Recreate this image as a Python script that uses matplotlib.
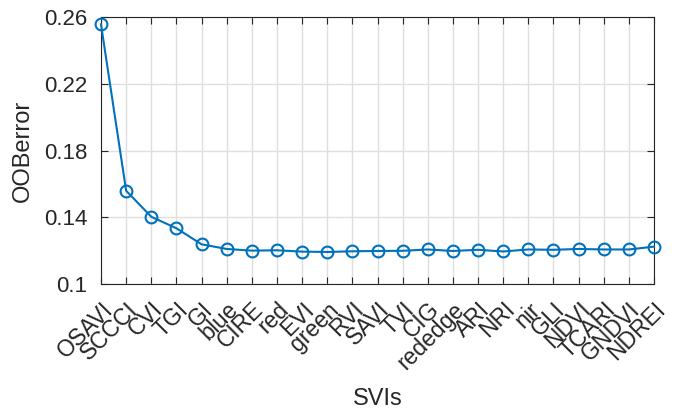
import matplotlib.pyplot as plt

plt.rcParams['font.family'] = ['Liberation Sans', 'DejaVu Sans']

# OOB error per spectral vegetation index
svis = ["OSAVI", "SCCCI", "CVI", "TGI", "GI", "blue", "CIRE", "red", "EVI", "green",
        "RVI", "SAVI", "TVI", "CIG", "rededge", "ARI", "NRI", "nir", "GLI", "NDVI",
        "TCARI", "GNDVI", "NDREI"]
oob_error = [0.2556, 0.1559, 0.1403, 0.1334, 0.1238, 0.1210, 0.1200, 0.1202, 0.1194, 0.1192,
             0.1196, 0.1198, 0.1199, 0.1207, 0.1198, 0.1205, 0.1195, 0.1207, 0.1205, 0.1210,
             0.1207, 0.1207, 0.1224]
y_ticks = [0.1, 0.14, 0.18, 0.22, 0.26]

fig = plt.figure(figsize=(6.76, 4.09), dpi=100)
ax = fig.add_axes([0.1494, 0.3056, 0.8181, 0.6528])

x = list(range(1, len(svis) + 1))
ax.plot(x, oob_error, color='#0072BD', linewidth=1.5, marker='o', markersize=8.5,
        markerfacecolor='none', markeredgewidth=1.5, zorder=3, clip_on=False)

ax.set_xlim(1, len(svis))
ax.set_ylim(0.1, 0.26)
ax.set_xticks(x)
ax.set_xticklabels(svis, rotation=45, ha='right', rotation_mode='anchor')
ax.set_yticks(y_ticks)
ax.set_yticklabels(["0.1", "0.14", "0.18", "0.22", "0.26"])

ax.grid(True, color='#dfdfdf', linewidth=1)
ax.set_axisbelow(True)
ax.tick_params(direction='in', length=5, width=0.8, top=True, right=True,
               labelsize=16, colors='#262626')
ax.tick_params(axis='x', pad=10, labelsize=16.5)
ax.tick_params(axis='y', pad=10)
for s in ax.spines.values():
    s.set_color('#262626')
    s.set_linewidth(0.8)

ax.set_xlabel("SVIs", fontsize=17, color='#262626', labelpad=10)
ax.set_ylabel("OOBerror", fontsize=17, color='#262626', labelpad=7)

fig.savefig("out.png", dpi=100)
